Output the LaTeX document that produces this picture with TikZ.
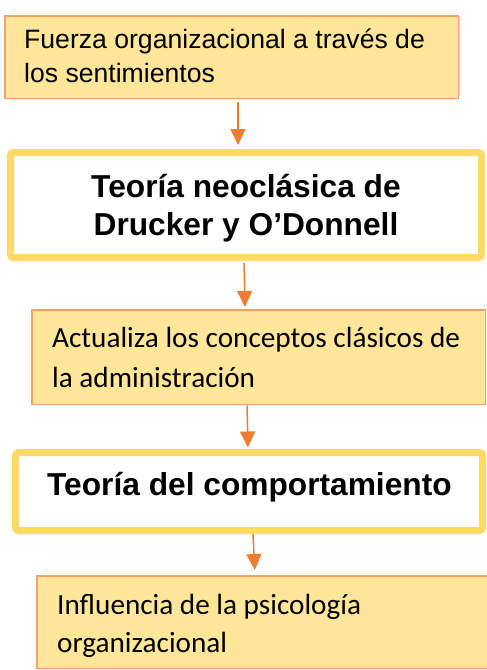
\documentclass[tikz,border=0pt]{standalone}
\usepackage{fontspec}
\setmainfont{Liberation Sans}
\newfontfamily\arialf{Liberation Sans}
\newfontfamily\calibrif{Carlito}
\usetikzlibrary{arrows.meta}
\definecolor{boxfill}{RGB}{255,230,153}
\definecolor{boxedge}{RGB}{244,162,97}
\definecolor{ybord}{RGB}{255,217,102}
\definecolor{arrcol}{RGB}{237,125,49}
\tikzset{
  x=1pt, y=-1pt,
  softbox/.style={draw=boxedge, fill=boxfill, line width=1.5pt, inner sep=0pt, rectangle},
  boldbox/.style={draw=ybord, fill=white, line width=7pt, rounded corners=3pt, inner sep=0pt, rectangle},
  arialtxt/.style={inner sep=0pt, anchor=base west, font=\arialf\fontsize{26.6pt}{32pt}\selectfont},
  boldtxt/.style={inner sep=0pt, anchor=base, font=\arialf\bfseries\fontsize{31.7pt}{38pt}\selectfont},
  boldtxtw/.style={inner sep=0pt, anchor=base west, font=\arialf\bfseries\fontsize{31.7pt}{38pt}\selectfont},
  caltxt/.style={inner sep=0pt, anchor=base west, font=\calibrif\fontsize{29.2pt}{36pt}\selectfont},
  arr/.style={draw=arrcol, line width=1.5pt, -{Triangle[width=15pt,length=16pt]}, arrcol}
}
\begin{document}
\begin{tikzpicture}
\useasboundingbox (0,0) rectangle (487,670);
\fill[white] (0,0) rectangle (487,670);
% boxes
\node[softbox, minimum width=453.5pt, minimum height=82.5pt] (b1) at (231.5,57) {};
\node[boldbox, minimum width=471pt, minimum height=105pt] (b2) at (246,205) {};
\node[softbox, minimum width=453.5pt, minimum height=94.5pt] (b3) at (258.5,357) {};
\node[boldbox, minimum width=467pt, minimum height=78pt] (b4) at (249,491.5) {};
\node[softbox, minimum width=483pt, minimum height=92.5pt] (b5) at (278.4,622) {};
% texts
\node[arialtxt] (t1a) at (24,48) {Fuerza organizacional a través de};
\node[arialtxt] (t1b) at (24,82) {los sentimientos};
\node[boldtxt] (t2a) at (246,197) {Teoría neoclásica de};
\node[boldtxt] (t2b) at (246,235) {Drucker y O’Donnell};
\node[caltxt] (t3a) at (52,347) {Actualiza los conceptos clásicos de};
\node[caltxt] (t3b) at (52,387) {la administración};
\node[boldtxtw] (t4) at (47,495) {Teoría del comportamiento};
\node[caltxt] (t5a) at (57,614) {Influencia de la psicología};
\node[caltxt] (t5b) at (57,652) {organizacional};
% connectors
\draw[arr, shorten <=2.5pt, shorten >=4pt] ([xshift=6.5pt]b1.south) -- ([xshift=-8pt]b2.north);
\draw[arr, shorten <=2pt, shorten >=2pt] ([xshift=-2pt]b2.south) -- ([xshift=-13.5pt]b3.north);
\draw[arr, shorten <=0.5pt, shorten >=1.5pt] ([xshift=-11.5pt]b3.south) -- ([xshift=-1pt]b4.north);
\draw[arr, shorten >=5pt] ([xshift=4pt]b4.south) -- ([xshift=-23.4pt]b5.north);
\end{tikzpicture}
\end{document}
